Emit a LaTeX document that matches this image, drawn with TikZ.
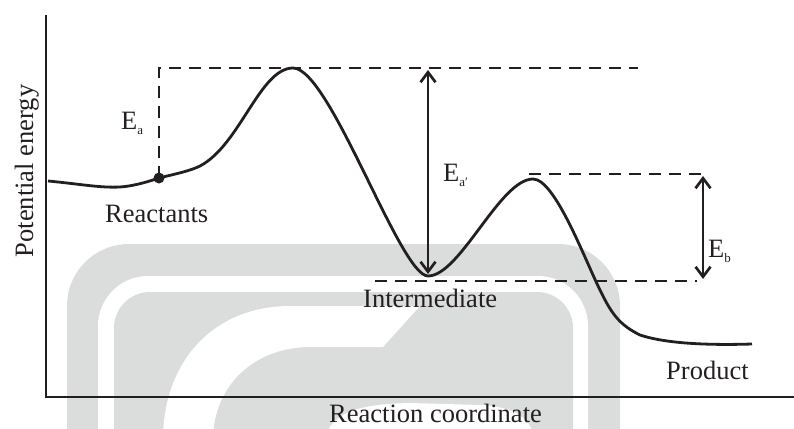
\documentclass[tikz,border=0pt]{standalone}
\usepackage{fontspec}
\setmainfont{Liberation Serif}
\usepackage{xcolor}
\usepackage{tikz}
\usetikzlibrary{arrows.meta}
\definecolor{inkmain}{HTML}{231F20}
\definecolor{wmgray}{HTML}{DBDCDC}
\newcommand{\Elabel}[1]{E\raisebox{-5pt}{\fontsize{13}{13}\selectfont #1}}
\tikzset{every node/.append style={font=\fontsize{26.5}{30}\selectfont,text=inkmain,inner sep=0pt},
  levelline/.style={inkmain,line width=2.7pt,dash pattern=on 12pt off 8pt},
  gapline/.style={inkmain,line width=2.7pt,{Straight Barb[length=10pt,width=15pt]}-{Straight Barb[length=10pt,width=15pt]}}}

\begin{document}
\begin{tikzpicture}[x=1pt,y=-1pt]
  \useasboundingbox (0,0) rectangle (794,428);
  % watermark in the background
  \begin{scope}
    \clip (0,0) rectangle (794,428);
    \fill[wmgray,rounded corners=62pt] (67,244) rectangle (620,600);
    \fill[white,rounded corners=50pt] (98,276) rectangle (588,600);
    \fill[wmgray,rounded corners=36pt] (114,292) rectangle (573,600);
    \fill[white] (420,306) -- (290,306) .. controls (215,306) and (163,360) .. (163,440)
      -- (213,440) .. controls (213,385) and (255,347) .. (310,347) -- (383,347) -- cycle;
    \fill[white] (325,440) .. controls (330,412) and (360,404) .. (410,403)
      -- (480,405) .. controls (515,407) and (532,418) .. (534,440) -- cycle;
  \end{scope}
  % axes
  \coordinate (yTop) at (46,15);
  \coordinate (orig) at (46,397);
  \coordinate (xEnd) at (794,397);
  \draw[inkmain,line width=2.7pt] (yTop) -- (orig) -- (xEnd);
  % energy profile
  \coordinate (react) at (48,181);
  \coordinate (dotA) at (159,178);
  \coordinate (ts1) at (293,68);
  \coordinate (imin) at (428,276);
  \coordinate (ts2) at (533,179);
  \coordinate (prod) at (752,344);
  \draw[inkmain,line width=2.8pt] (react)
    .. controls (80,184) and (100,188) .. (120,187)
    .. controls (135,186) and (150,181) .. (dotA)
    .. controls (175,174) and (190,171) .. (200,166)
    .. controls (240,145) and (260,68) .. (ts1)
    .. controls (330,68) and (400,276) .. (imin)
    .. controls (460,276) and (500,179) .. (ts2)
    .. controls (555,179) and (585,260) .. (600,290)
    .. controls (612,315) and (620,325) .. (640,335)
    .. controls (670,345) and (720,345) .. (prod);
  \fill[inkmain] (dotA) circle (5.5pt);
  % level lines
  \coordinate (eaTop) at (159,68);
  \coordinate (topEnd) at (638,68);
  \coordinate (ts2L) at (529,174);
  \coordinate (ts2R) at (703,174);
  \coordinate (intL) at (375,281);
  \coordinate (intR) at (697,281);
  \draw[levelline] (dotA) -- (eaTop) -- (topEnd);
  \draw[levelline] (ts2L) -- (ts2R);
  \draw[levelline] (intL) -- (intR);
  % energy gaps
  \coordinate (gapAtop) at (428,70);
  \coordinate (gapAbot) at (428,274);
  \coordinate (gapBtop) at (703,176);
  \coordinate (gapBbot) at (703,279);
  \draw[gapline] (gapAtop) -- (gapAbot);
  \draw[gapline] (gapBtop) -- (gapBbot);
  % labels
  \node[anchor=base west] (ea) at (121,129) {\Elabel{a}};
  \node[anchor=base west] (eap) at (443,181) {\Elabel{a′}};
  \node[anchor=base west] (eb) at (708,257) {\Elabel{b}};
  \node[anchor=base west] (reactants) at (105,222) {Reactants};
  \node[anchor=base west] (intermediate) at (363,307) {Intermediate};
  \node[anchor=base west] (product) at (666,379) {Product};
  \node[anchor=base west] (xlabel) at (329,422) {Reaction coordinate};
  \node[rotate=90,anchor=base] (ylabel) at (33,171) {Potential energy};
\end{tikzpicture}
\end{document}
